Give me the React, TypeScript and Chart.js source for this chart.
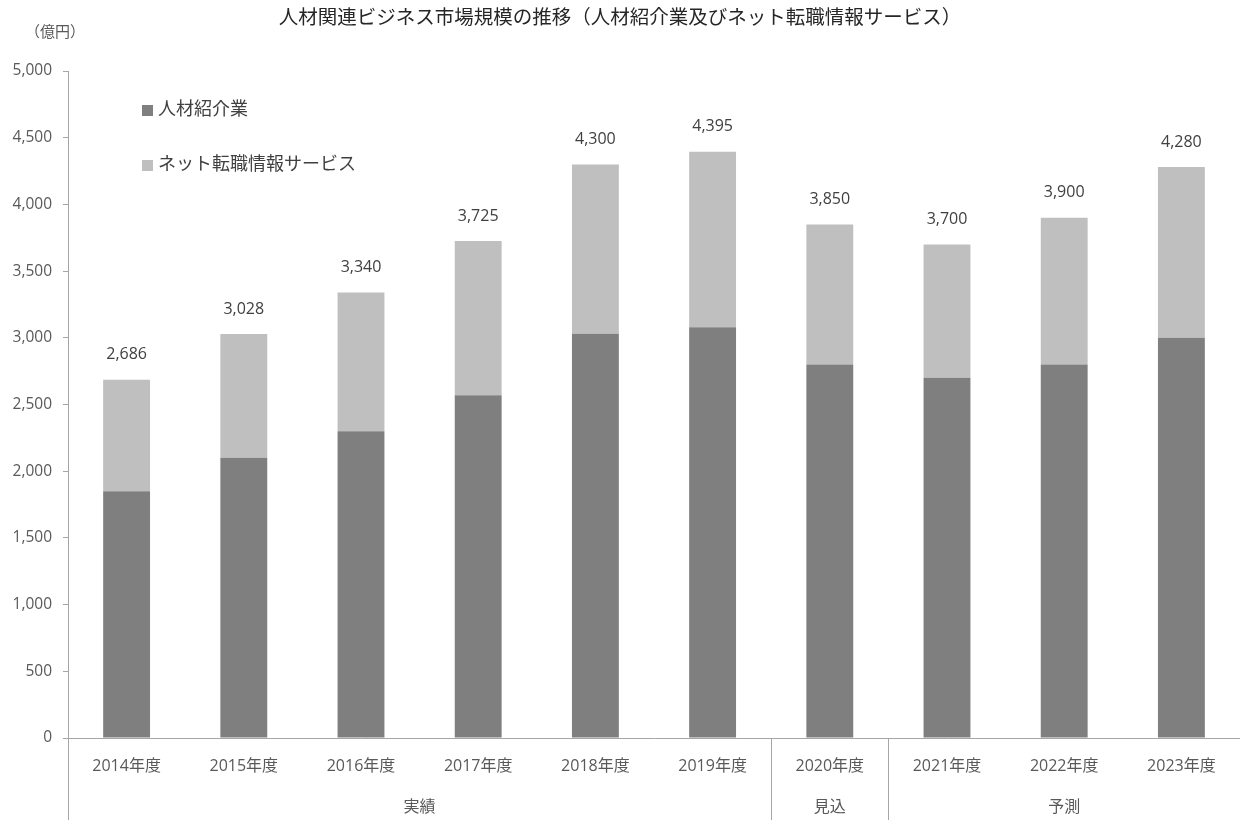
import React, { useEffect, useRef } from "react";
import { Chart, registerables } from "chart.js";

Chart.register(...registerables);

const TITLE = "人材関連ビジネス市場規模の推移（人材紹介業及びネット転職情報サービス）";
const UNIT = "（億円）";
const categories = [
  "2014年度", "2015年度", "2016年度", "2017年度", "2018年度",
  "2019年度", "2020年度", "2021年度", "2022年度", "2023年度",
];
const seriesNames = ["人材紹介業", "ネット転職情報サービス"];
const recruitment = [1850, 2100, 2300, 2570, 3030, 3080, 2800, 2700, 2800, 3000];
const jobInfo = [836, 928, 1040, 1155, 1270, 1315, 1050, 1000, 1100, 1280];
const groupLabels = ["実績", "見込", "予測"];
const groupSizes = [6, 1, 3];

const FONT = '"Open Sans", "Noto Sans CJK JP", sans-serif';
const DARK = "#7f7f7f";
const LIGHT = "#bfbfbf";
const AXIS = "#a6a6a6";
const TEXT = "#595959";

const fmt = (v: number) => v.toLocaleString("en-US");

const decorPlugin = {
  id: "decor",
  afterDraw(chart: any) {
    const ctx = chart.ctx as CanvasRenderingContext2D;
    const xs = chart.scales.x;
    const area = chart.chartArea;
    const H = chart.height;
    ctx.save();

    // title
    ctx.fillStyle = "#262626";
    ctx.font = `19.5px ${FONT}`;
    ctx.textAlign = "center";
    ctx.textBaseline = "middle";
    ctx.fillText(TITLE, chart.width / 2, 18);

    // unit
    ctx.fillStyle = TEXT;
    ctx.font = `15px ${FONT}`;
    ctx.textAlign = "left";
    ctx.fillText(UNIT, 25, 33);

    // legend
    const colors = [DARK, LIGHT];
    ctx.font = `18px ${FONT}`;
    seriesNames.forEach((name, i) => {
      const cy = 110 + i * 55;
      ctx.fillStyle = colors[i];
      ctx.fillRect(142, cy - 5, 11, 11);
      ctx.fillStyle = "#404040";
      ctx.textAlign = "left";
      ctx.textBaseline = "middle";
      ctx.fillText(name, 158, cy);
    });

    // totals
    const meta = chart.getDatasetMeta(1);
    ctx.font = `16px ${FONT}`;
    ctx.fillStyle = "#404040";
    ctx.textAlign = "center";
    ctx.textBaseline = "middle";
    categories.forEach((_, i) => {
      const el = meta.data[i];
      const total = recruitment[i] + jobInfo[i];
      ctx.fillText(fmt(total), el.x, el.y - 25);
    });

    // y axis extension & group separators
    ctx.strokeStyle = AXIS;
    ctx.lineWidth = 1;
    ctx.beginPath();
    ctx.moveTo(area.left + 0.5, area.bottom);
    ctx.lineTo(area.left + 0.5, H);
    let start = 0;
    groupSizes.forEach((n, gi) => {
      const end = start + n;
      if (gi < groupSizes.length - 1) {
        const sx = Math.round(xs.getPixelForValue(end - 0.5)) + 0.5;
        ctx.moveTo(sx, area.bottom);
        ctx.lineTo(sx, H);
      }
      start = end;
    });
    ctx.stroke();

    // group labels
    ctx.fillStyle = TEXT;
    ctx.font = `16px ${FONT}`;
    start = 0;
    groupSizes.forEach((n, gi) => {
      const end = start + n;
      const left = start === 0 ? area.left : xs.getPixelForValue(start - 0.5);
      const right = end === categories.length ? area.right : xs.getPixelForValue(end - 0.5);
      ctx.fillText(groupLabels[gi], (left + right) / 2, 807);
      start = end;
    });

    ctx.restore();
  },
};

export default function App() {
  const ref = useRef<HTMLCanvasElement | null>(null);
  useEffect(() => {
    if (!ref.current) return;
    const chart = new Chart(ref.current, {
      type: "bar",
      data: {
        labels: categories,
        datasets: [
          { label: seriesNames[0], data: recruitment, backgroundColor: DARK, barPercentage: 0.4, categoryPercentage: 1 },
          { label: seriesNames[1], data: jobInfo, backgroundColor: LIGHT, barPercentage: 0.4, categoryPercentage: 1 },
        ],
      },
      options: {
        animation: false,
        responsive: true,
        maintainAspectRatio: false,
        layout: { padding: { top: 71, left: 0, right: 0, bottom: 0 } },
        plugins: { legend: { display: false }, tooltip: { enabled: false }, title: { display: false } },
        scales: {
          x: {
            stacked: true,
            grid: { display: false, drawTicks: false },
            border: { display: true, color: AXIS, width: 1 },
            ticks: { color: TEXT, font: { family: FONT, size: 16 }, padding: 19, maxRotation: 0, autoSkip: false },
            afterFit: (s: any) => { s.height = 82; },
          },
          y: {
            stacked: true,
            min: 0,
            max: 5000,
            grid: { drawOnChartArea: false, drawTicks: true, tickLength: 5, color: AXIS },
            border: { display: true, color: AXIS, width: 1 },
            ticks: { stepSize: 500, color: TEXT, font: { family: FONT, size: 15.5 }, padding: 11, callback: (v: any) => fmt(Number(v)) },
            afterFit: (s: any) => { s.width = 68; },
          },
        },
      },
      plugins: [decorPlugin],
    });
    return () => chart.destroy();
  }, []);
  return (
    <div style={{ position: "fixed", left: 0, top: 0, width: 1240, height: 820, background: "#fff" }}>
      <canvas ref={ref} />
    </div>
  );
}
